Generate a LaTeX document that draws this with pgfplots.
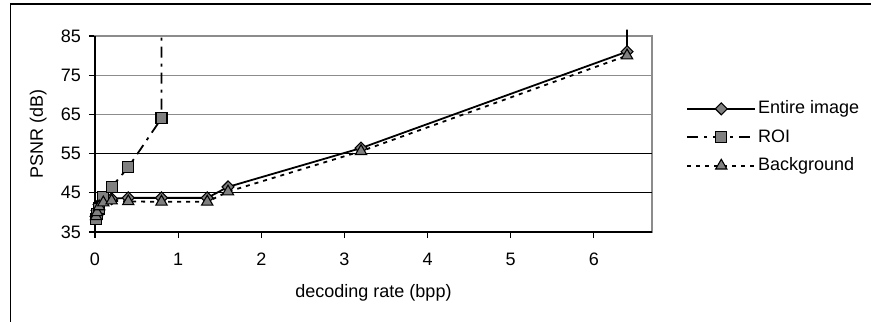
\documentclass[border=0pt]{standalone}
\usepackage{pgfplots}
\pgfplotsset{compat=1.18}
\usepackage{fontspec}
\setmainfont{Liberation Sans}
\definecolor{mk}{HTML}{808080}
\definecolor{gr}{HTML}{8C8C8C}
\begin{document}
\fontsize{18bp}{21bp}\selectfont
\begin{tikzpicture}
\begin{axis}[
  name=ax,
  at={(0bp,0bp)}, anchor=south west,
  scale only axis, width=557bp, height=196bp,
  xmin=0, xmax=6.7, ymin=35, ymax=85,
  xtick={0,1,2,3,4,5,6},
  ytick={35,65,75,85},
  extra y ticks={45,55},
  extra y tick style={grid style={black, line width=0.9bp}},
  ymajorgrids,
  grid style={gr, line width=1.4bp},
  axis line style={gr, line width=1.4bp},
  tick style={black, line width=1.2bp},
  tick align=outside, major tick length=6bp,
  xtick pos=bottom, ytick pos=left,
  /pgf/number format/assume math mode=true,
  tick label style={font=\fontsize{18bp}{21bp}\selectfont},
  yticklabel style={xshift=-2bp},
  xticklabel style={yshift=-9bp},
  xlabel={decoding rate (bpp)},
  ylabel={PSNR (dB)},
  label style={font=\fontsize{18bp}{21bp}\selectfont},
  xlabel style={yshift=-6bp},
  ylabel style={at={(rel axis cs:-0.102,0.5)}, anchor=center, rotate=0},
  clip=false,
  legend cell align=left,
  legend style={draw=none, fill=none, at={(1.056,0.69)}, anchor=north west,
    font=\fontsize{18bp}{21bp}\selectfont, row sep=9bp,
    /tikz/every even column/.append style={column sep=1bp}},
  legend image code/.code={%
    \draw[mark indices={2}] plot coordinates {(0bp,0bp)(34bp,0bp)(68bp,0bp)};},
]
% Entire image
\addplot[black, line width=1.8bp, mark=square*, mark size=4.2bp, mark indices={1,...,11},
  mark options={solid, rotate=45, fill=mk, draw=black, line width=1.1bp}]
  coordinates {(0.0125,39) (0.025,40.5) (0.05,42) (0.1,43) (0.2,43.5) (0.4,43.7) (0.8,43.7) (1.35,43.7) (1.6,46.5) (3.2,56.4) (6.4,81) (6.4,86.6)};
\addlegendentry{Entire image}
% ROI
\addplot[black, line width=1.8bp, dash pattern=on 11bp off 6bp on 3bp off 6bp, mark=square*, mark size=5.5bp, mark indices={1,...,7},
  mark options={solid, fill=mk, draw=black, line width=1.1bp}]
  coordinates {(0.0125,38.3) (0.025,39.6) (0.05,41) (0.1,44) (0.2,46.5) (0.4,51.5) (0.8,64) (0.8,85)};
\addlegendentry{ROI}
% Background
\addplot[black, line width=1.8bp, dash pattern=on 4bp off 5bp, mark=triangle*, mark size=6.5bp,
  mark options={solid, fill=mk, draw=black, line width=1.1bp}]
  coordinates {(0.0125,39) (0.025,40) (0.05,41.5) (0.1,42.5) (0.2,43) (0.4,42.8) (0.8,42.7) (1.35,42.7) (1.6,45.3) (3.2,55.6) (6.4,80)};
\addlegendentry{Background}
\draw[black, line width=1.4bp] (rel axis cs:0,1) -- (rel axis cs:0,0) -- (rel axis cs:1,0);
\end{axis}
\draw[line width=1.2bp] (-84.5bp,-90bp) -- (-84.5bp,228bp) -- (776bp,228bp);
\pgfresetboundingbox
\path[use as bounding box] (-95bp,-90bp) rectangle (776bp,232bp);
\end{tikzpicture}
\end{document}
